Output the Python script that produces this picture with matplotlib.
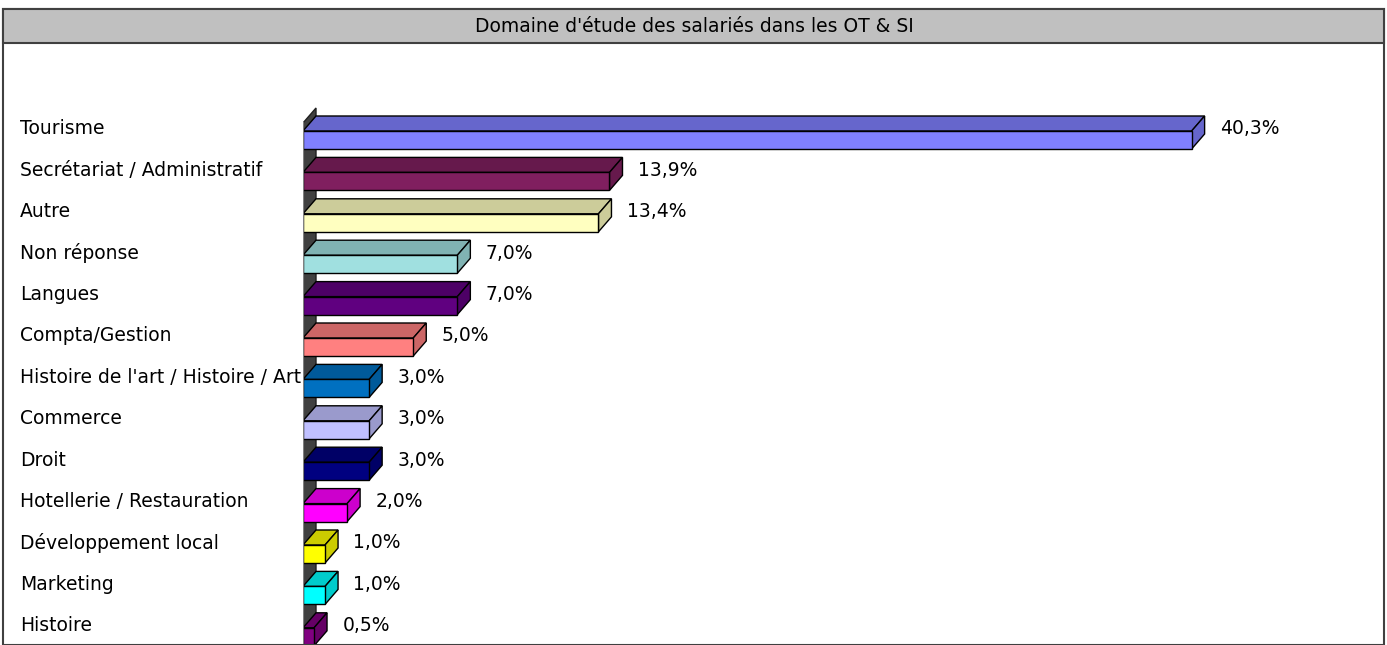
import matplotlib
matplotlib.use("Agg")
import matplotlib.pyplot as plt
from matplotlib.patches import Polygon, Rectangle
from matplotlib.colors import to_rgb
from matplotlib.transforms import blended_transform_factory

plt.rcParams['font.family'] = ['DejaVu Sans']

title = "Domaine d'étude des salariés dans les OT & SI"
categories = ["Tourisme", "Secrétariat / Administratif", "Autre", "Non réponse",
              "Langues", "Compta/Gestion", "Histoire de l'art / Histoire / Art",
              "Commerce", "Droit", "Hotellerie / Restauration",
              "Développement local", "Marketing", "Histoire"]
values = [40.3, 13.9, 13.4, 7.0, 7.0, 5.0, 3.0, 3.0, 3.0, 2.0, 1.0, 1.0, 0.5]
colors = ["#8080FF", "#801F5F", "#FFFFC0", "#A0E0E0", "#600080", "#FF8080",
          "#0070C0", "#C0C0FF", "#000080", "#FF00FF", "#FFFF00", "#00FFFF",
          "#800080"]

W, H = 1387, 645
FS = 13.5
fig = plt.figure(figsize=(W / 100, H / 100), dpi=100)

# frame + title bar (figure pixels)
fig.patches.append(Rectangle((3 / W, 0), (1384 - 3) / W, (H - 9) / H,
                             transform=fig.transFigure, fill=False,
                             edgecolor="#404040", linewidth=1.5))
fig.patches.append(Rectangle((3 / W, (H - 43) / H), (1384 - 3) / W, 34 / H,
                             transform=fig.transFigure, facecolor="#C0C0C0",
                             edgecolor="#404040", linewidth=1.5))
fig.text(694 / W, (H - 27) / H, title, ha="center", va="center", fontsize=FS)

# plot area
x0, xscale = 303, 22.05
ypitch, yc0 = 41.4, 140
ax = fig.add_axes([x0 / W, 0, (1384 - x0) / W, (H - 44) / H])
ax.set_xlim(0, (1384 - x0) / xscale)
ax.set_ylim((H - yc0) / ypitch, (44 - yc0) / ypitch)
ax.axis("off")

dx = 13 / xscale
dy = 15 / ypitch
hh = 9 / ypitch
n = len(values)

# left wall
wall_top = -hh - 8 / ypitch
ax.add_patch(Polygon([(0, wall_top), (dx, wall_top - dy), (dx, n + 1), (0, n + 1)],
                     closed=True, facecolor="#404040", edgecolor="#202020", lw=1))
ax.plot([0, 0], [wall_top, n + 1], color="#808080", lw=1.5)


def shade(c, f=0.8):
    return tuple(v * f for v in to_rgb(c))


label_tr = blended_transform_factory(fig.transFigure, ax.transData)

for i, (v, c) in enumerate(zip(values, colors)):
    top, bot = i - hh, i + hh
    ax.add_patch(Polygon([(0, top), (v, top), (v + dx, top - dy), (dx, top - dy)],
                         closed=True, facecolor=shade(c), edgecolor="black", lw=1))
    ax.add_patch(Polygon([(v, top), (v, bot), (v + dx, bot - dy), (v + dx, top - dy)],
                         closed=True, facecolor=shade(c), edgecolor="black", lw=1))
    ax.add_patch(Rectangle((0, top), v, 2 * hh, facecolor=c, edgecolor="black", lw=1))
    ax.annotate(f"{v:.1f}%".replace(".", ","), xy=(v + dx, i - 0.27),
                xytext=(11, 0), textcoords="offset points",
                ha="left", va="center", fontsize=FS)
    ax.text(20 / W, i - 0.27, categories[i], transform=label_tr,
            ha="left", va="center", fontsize=FS)

fig.savefig("out.png", dpi=100)
